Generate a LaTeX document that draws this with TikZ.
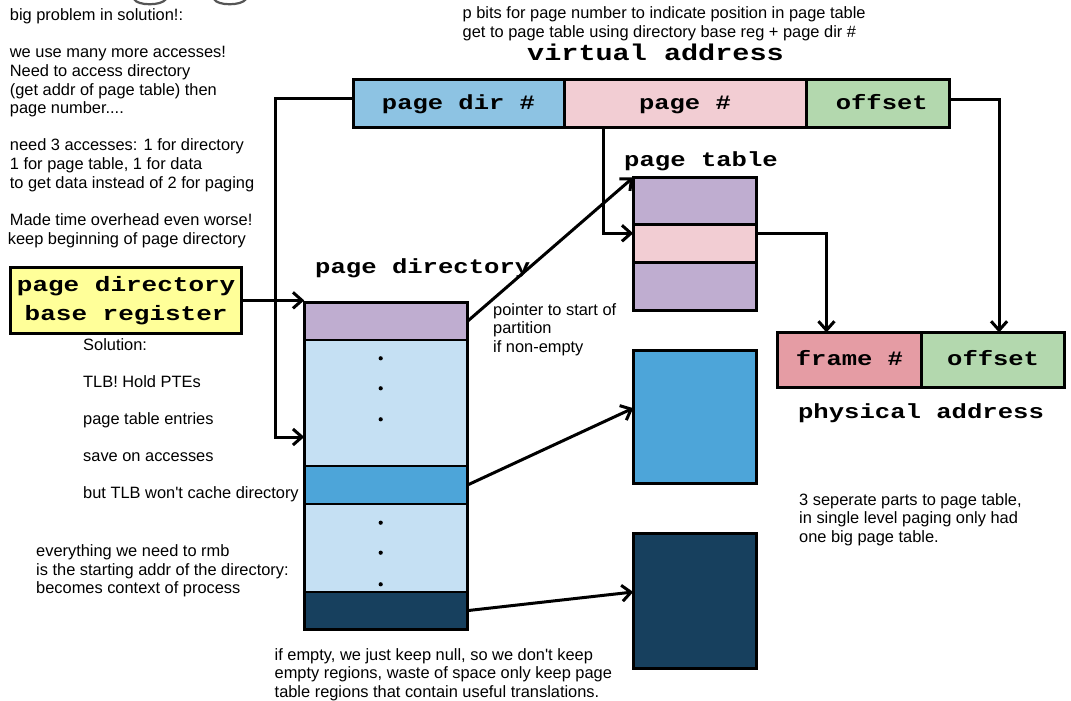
\documentclass[tikz,border=0pt]{standalone}
\usepackage{fontspec}
\setmainfont{Liberation Sans}
\setmonofont{Liberation Mono}
\usetikzlibrary{arrows.meta,calc}
\definecolor{pdblue}{HTML}{8DC3E3}
\definecolor{pgpink}{HTML}{F2CDD3}
\definecolor{offgreen}{HTML}{B3D8AE}
\definecolor{ptpurple}{HTML}{BFADD0}
\definecolor{ltblue}{HTML}{C5E0F3}
\definecolor{midblue}{HTML}{4DA5D9}
\definecolor{navyblue}{HTML}{17405E}
\definecolor{framepink}{HTML}{E59CA4}
\definecolor{regyellow}{HTML}{FFFF99}
\definecolor{titlegray}{HTML}{555555}
\newcommand{\monosq}[1]{\scalebox{1}[0.8]{#1}}
\begin{document}
\begin{tikzpicture}[x=1pt,y=-1pt,
  cell/.style={draw=black, line width=3pt, inner sep=0pt, outer sep=0pt, anchor=north west,
    text height=14pt, text depth=3pt, font=\fontsize{25.5}{28}\selectfont\ttfamily\bfseries},
  pdrow/.style={draw=black, line width=2pt, inner sep=0pt, outer sep=0pt, anchor=north west, minimum width=163.3pt},
  ptrow/.style={draw=black, line width=3pt, inner sep=0pt, outer sep=0pt, anchor=north west, minimum width=123pt},
  conn/.style={line width=3pt, line join=miter, -{Straight Barb[length=9pt,width=16pt]}},
  note/.style={anchor=base west, inner sep=0pt, font=\fontsize{16.4}{18.6}\selectfont},
  lbl/.style={anchor=base west, inner sep=0pt, font=\fontsize{25.6}{28}\selectfont\ttfamily\bfseries},
]
\useasboundingbox (0,0) rectangle (1071,701);

% fragment of a cut-off title at the top
\draw[titlegray, line width=2.2pt] (134,-1) .. controls (137,6) and (162,6) .. (166,-1);
\draw[titlegray, line width=2.2pt] (214,-1) .. controls (217,6) and (242,6) .. (246,-1);

% virtual address
\node[cell, fill=pdblue, minimum width=211pt, minimum height=47pt] (pdir) at (353,80) {\monosq{page dir \#}};
\node[cell, fill=pgpink, minimum width=242pt, minimum height=47pt] (page) at (564,80) {\monosq{page \#}};
\node[cell, fill=offgreen, minimum width=143.5pt, minimum height=47pt] (off) at (806,80) {\hspace*{8pt}\monosq{offset}};
\node[lbl, font=\fontsize{28.5}{30}\selectfont\ttfamily\bfseries] (vlabel) at (527,60) {\monosq{virtual address}};

% page directory base register
\node[draw=black, line width=3pt, fill=regyellow, anchor=north west, minimum width=231.3pt,
  minimum height=66.3pt, inner sep=0pt, outer sep=0pt, align=center,
  font=\fontsize{26}{29.3}\selectfont\ttfamily\bfseries] (reg) at (10.5,267.2) {\monosq{page directory}\\\monosq{base register}};

% page directory
\node[lbl] (pdlabel) at (315,273.3) {\monosq{page directory}};
\node[pdrow, fill=ptpurple, minimum height=37.5pt] (pdA) at (304.2,302.5) {};
\node[pdrow, fill=ltblue, minimum height=126pt] (pdB) at (304.2,340) {};
\node[pdrow, fill=midblue, minimum height=38pt] (pdC) at (304.2,466) {};
\node[pdrow, fill=ltblue, minimum height=88pt] (pdD) at (304.2,504) {};
\node[pdrow, fill=navyblue, minimum height=37.2pt] (pdE) at (304.2,592) {};
\draw[line width=3pt] (pdA.north west) rectangle (pdE.south east);
\foreach \yy in {358.3,388.3,419.3,522.7,552.7,584.3} \fill (380.7,\yy) circle (2.1pt);

% page table
\node[lbl] (ptlabel) at (624,166) {\monosq{page table}};
\node[ptrow, fill=ptpurple, minimum height=46.8pt] (ptA) at (633.2,177.5) {};
\node[ptrow, fill=pgpink, minimum height=38pt] (ptB) at (633.2,224.3) {};
\node[ptrow, fill=ptpurple, minimum height=47.9pt] (ptC) at (633.2,262.3) {};

% other page-table parts
\node[ptrow, fill=midblue, minimum height=132.7pt] (box2) at (633.2,350.8) {};
\node[ptrow, fill=navyblue, minimum height=135pt] (box3) at (633.2,533.5) {};

% physical address
\node[cell, fill=framepink, minimum width=144.5pt, minimum height=55.3pt] (frame) at (777.2,332.5) {\monosq{frame \#}};
\node[cell, fill=offgreen, minimum width=142.8pt, minimum height=55.3pt] (poff) at (921.7,332.5) {\monosq{offset}};
\node[lbl, anchor=base] (phlabel) at (921,418.3) {\monosq{physical address}};

% connectors
\draw[conn] ([yshift=5pt]pdir.west) -- ++(-78,0) |- ([yshift=-34pt]pdB.west);
\draw[conn] (reg.east) -- (reg.east -| pdA.north west);
\draw[conn] ([xshift=-82pt]page.south) |- ([yshift=10pt]ptB.west);
\draw[conn] (pdA.east) -- (ptA.north west);
\draw[conn] ([yshift=10pt]ptB.east) -| ([xshift=-23pt]frame.north);
\draw[conn] ([yshift=4.5pt]off.east) -| ([xshift=6pt]poff.north);
\draw[conn] (pdC.east) -- ([yshift=9pt]box2.west);
\draw[conn] (pdE.east) -- ([yshift=9pt]box3.west);

% notes
\node[note] (top1) at (462.5,18.8) {p bits for page number to indicate position in page table};
\node[note] (top2) at (462.5,37.4) {get to page table using directory base reg + page dir \#};

\foreach \i/\s in {0/{big problem in solution!:}, 2/{we use many more accesses!}, 3/{Need to access directory},
  4/{(get addr of page table) then}, 5/{page number....}, 7/{need 3 accesses: 1 for directory},
  8/{1 for page table, 1 for data}, 9/{to get data instead of 2 for paging}, 11/{Made time overhead even worse!}}
  \node[note] (left\i) at (9.7,{20.7+18.6*\i}) {\s};
\node[note] (left12) at (7.7,244) {keep beginning of page directory};

\foreach \i/\s in {0/{Solution:}, 1/{TLB! Hold PTEs}, 2/{page table entries}, 3/{save on accesses},
  4/{but TLB won\textquotesingle t cache directory}}
  \node[note] (sol\i) at (83,{350+37*\i}) {\s};

\foreach \i/\s in {0/{everything we need to rmb}, 1/{is the starting addr of the directory:}, 2/{becomes context of process}}
  \node[note] (ctx\i) at (36,{556.7+18.6*\i}) {\s};

\foreach \i/\s in {0/{pointer to start of}, 1/{partition}, 2/{if non-empty}}
  \node[note] (ptr\i) at (493,{315+18.5*\i}) {\s};

\foreach \i/\s in {0/{3 seperate parts to page table,}, 1/{in single level paging only had}, 2/{one big page table.}}
  \node[note] (sep\i) at (799,{505+18.5*\i}) {\s};

\foreach \i/\s in {0/{if empty, we just keep null, so we don\textquotesingle t keep}, 1/{empty regions, waste of space only keep page},
  2/{table regions that contain useful translations.}}
  \node[note] (emp\i) at (274.5,{660+18.5*\i}) {\s};
\end{tikzpicture}
\end{document}
